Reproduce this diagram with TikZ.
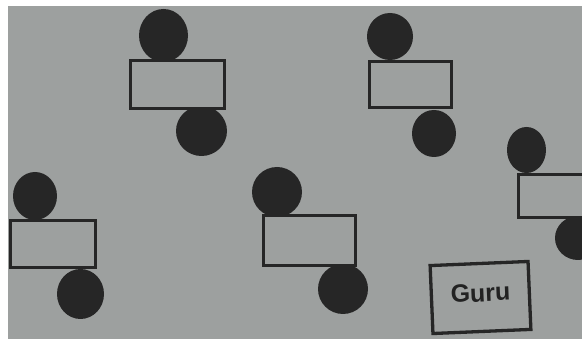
\documentclass[tikz,border=0pt]{standalone}
\usepackage{fontspec}
\setmainfont{Liberation Sans}
\usetikzlibrary{shapes.geometric}
\definecolor{paper}{RGB}{157,160,159}
\definecolor{ink}{RGB}{38,38,38}
\tikzset{
  head/.style={ellipse, fill=ink, draw=none, inner sep=0pt},
  desk/.style={rectangle, draw=ink, line width=3.3pt, fill=paper, inner sep=0pt},
  teacher/.style={rectangle, draw=ink, line width=3.3pt, inner sep=0pt, minimum width=98pt, minimum height=68pt, rotate=2.4},
  lbl/.style={font=\bfseries\fontsize{25}{25}\selectfont, text=ink!90!black, inner sep=0pt, rotate=2.4}
}
\begin{document}
\begin{tikzpicture}[x=1pt,y=-1pt]
\useasboundingbox (0,0) rectangle (582,339);
\fill[white] (0,0) rectangle (582,339);
\fill[paper] (8,6) rectangle (582,339);
% group 1
\node[head, minimum width=49pt, minimum height=53pt] (h1a) at (163.5,35.5) {};
\node[head, minimum width=51pt, minimum height=50pt] (h1b) at (201.5,131) {};
\node[desk, minimum width=94pt, minimum height=48pt] (d1) at (177.5,84.5) {};
% group 2
\node[head, minimum width=46pt, minimum height=47pt] (h2a) at (390,36.5) {};
\node[head, minimum width=44pt, minimum height=47pt] (h2b) at (434,133.5) {};
\node[desk, minimum width=82pt, minimum height=46pt] (d2) at (410.5,84.5) {};
% group 3
\node[head, minimum width=44pt, minimum height=48pt] (h3a) at (35,196) {};
\node[head, minimum width=47pt, minimum height=50pt] (h3b) at (80.5,294) {};
\node[desk, minimum width=85pt, minimum height=47pt] (d3) at (53,244) {};
% group 4
\node[head, minimum width=50pt, minimum height=50pt] (h4a) at (277,192) {};
\node[head, minimum width=50pt, minimum height=50pt] (h4b) at (343,289) {};
\node[desk, minimum width=92pt, minimum height=50pt] (d4) at (309.5,240.5) {};
% group 5
\node[head, minimum width=39pt, minimum height=46pt] (h5a) at (526.5,150) {};
\node[head, minimum width=46pt, minimum height=44pt] (h5b) at (578,238) {};
\node[desk, minimum width=82pt, minimum height=43pt] (d5) at (559.5,196) {};
% teacher
\node[teacher] (guru) at (480.5,297.5) {};
\node[lbl] (gurutext) at (480.5,293) {Guru};
\end{tikzpicture}
\end{document}
